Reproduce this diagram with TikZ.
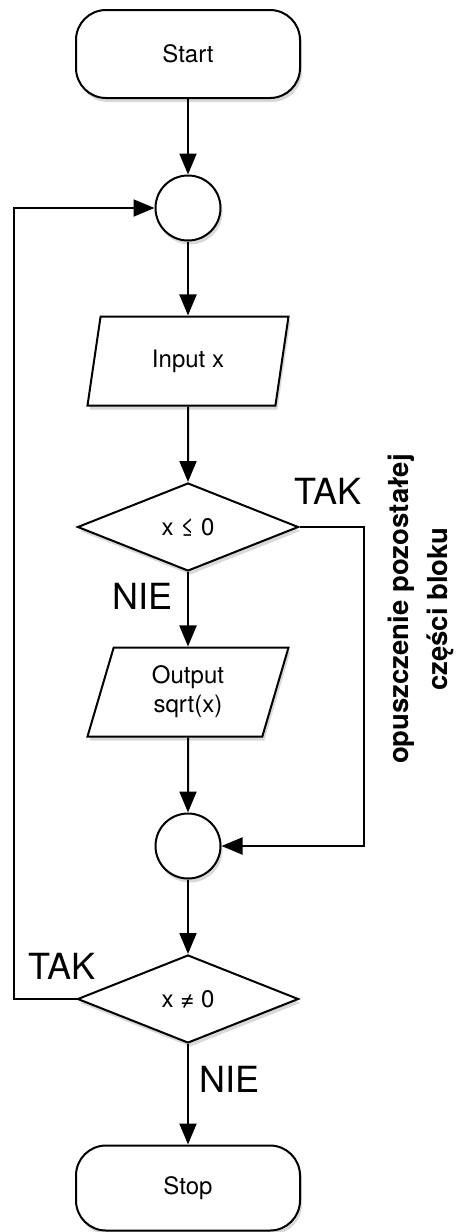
\documentclass[tikz,border=0pt]{standalone}
\usepackage{fontspec}
\setmainfont{TeX Gyre Heros}
\usetikzlibrary{arrows.meta,shapes.geometric,shadows}
\tikzset{>={Triangle[length=21pt,width=17pt]},
  blok/.style={draw, line width=2pt, fill=white, font=\fontsize{24}{29}\selectfont,
    drop shadow={shadow xshift=2pt, shadow yshift=-4pt, opacity=0.3}},
  term/.style={blok, rectangle, rounded corners=30pt, minimum width=224pt, minimum height=88pt},
  wezel/.style={blok, circle, minimum size=65pt},
  io/.style={blok, trapezium, trapezium left angle=66, trapezium right angle=114,
    trapezium stretches body, minimum width=201pt, minimum height=89pt, align=center},
  warunek/.style={blok, diamond, inner sep=0pt, minimum width=221pt, minimum height=88pt},
  etykieta/.style={font=\fontsize{36}{40}\selectfont},
  strz/.style={->, line width=2pt}}

\begin{document}
\begin{tikzpicture}[x=1pt, y=-1pt]
    \useasboundingbox (0,0) rectangle (470,1232);
    \node[term] (start) at (188,54) {Start};
    \node[wezel] (wezA) at (188,208) {};
    \node[io] (wejscie) at (188,361) {Input x};
    \node[warunek] (war1) at (188,527) {x ≤ 0};
    \node[io] (wyjscie) at (188,692) {Output\\sqrt(x)};
    \node[wezel] (wezB) at (188,846) {};
    \node[warunek] (war2) at (188,999) {x ≠ 0};
    \node[term, minimum height=85pt] (stop) at (188,1188) {Stop};
    \node[etykieta] (tak1) at (328,491) {TAK};
    \node[etykieta] (nie1) at (143,596) {NIE};
    \node[etykieta] (tak2) at (62,966) {TAK};
    \node[etykieta] (nie2) at (230,1079) {NIE};
    \node[rotate=90, align=center, font=\bfseries\fontsize{27.5}{39}\selectfont] (opis) at (421,609)
        {opuszczenie pozostałej\\części bloku};
    \draw[strz] (start) -- (wezA);
    \draw[strz] (wezA) -- (wejscie);
    \draw[strz] (wejscie) -- (war1);
    \draw[strz] (war1.south) -- (wyjscie);
    \draw[strz] (war1.east) -- ++(64,0) |- (wezB.east);
    \draw[strz] (wyjscie) -- (wezB);
    \draw[strz] (wezB) -- (war2);
    \draw[strz] (war2.west) -- ++(-63,0) |- (wezA.west);
    \draw[strz] (war2.south) -- (stop);
\end{tikzpicture}
\end{document}
